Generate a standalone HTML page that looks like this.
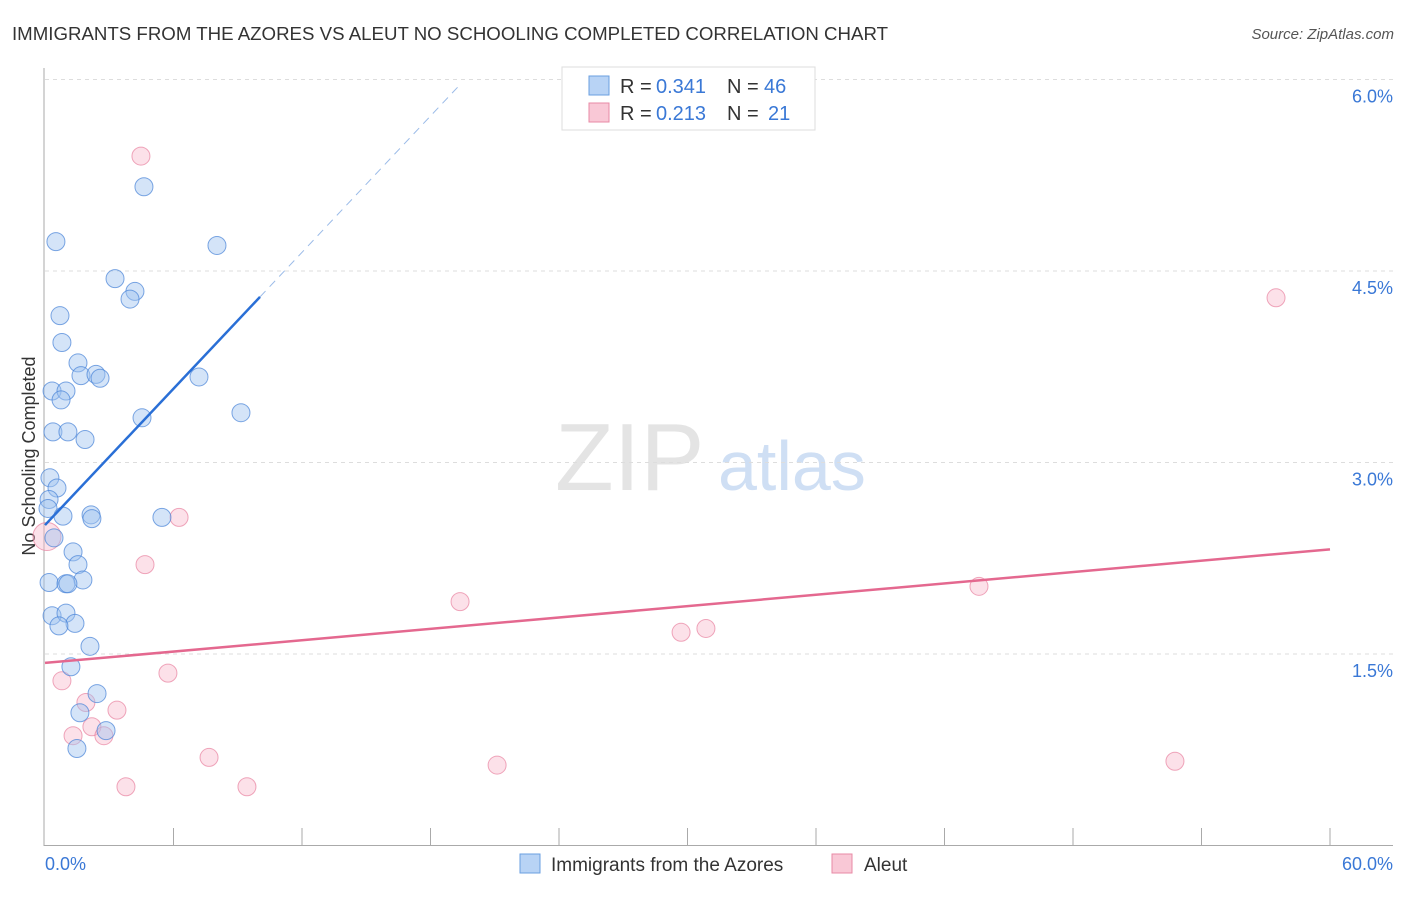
<!DOCTYPE html>
<html><head><meta charset="utf-8"><style>
body{margin:0;background:#fff;font-family:"Liberation Sans",sans-serif;}
svg text{font-family:"Liberation Sans",sans-serif;}
</style></head><body>
<svg id="c" width="1406" height="892">
<text x="12" y="40" font-size="18" fill="#333" textLength="876" lengthAdjust="spacingAndGlyphs">IMMIGRANTS FROM THE AZORES VS ALEUT NO SCHOOLING COMPLETED CORRELATION CHART</text>
<text x="1394" y="39" font-size="15" fill="#555" font-style="italic" text-anchor="end">Source: ZipAtlas.com</text>
<text x="555" y="490" font-size="96" fill="#e4e4e4" font-family="Liberation Serif">ZIP</text>
<text x="718" y="490" font-size="70" fill="#cfdff4">atlas</text>
<text x="35" y="456" font-size="18" fill="#333" text-anchor="middle" transform="rotate(-90 35 456)">No Schooling Completed</text>
<g id="grid"></g><g id="marks"></g>
<g>
<rect x="562" y="67" width="253" height="63" fill="#fff" stroke="#ddd"/>
<rect x="589" y="76" width="20" height="19" fill="#b8d3f5" stroke="#6a9fe0"/>
<rect x="589" y="103" width="20" height="19" fill="#f9c8d6" stroke="#e88aa5"/>
<text x="620" y="93" font-size="20" fill="#333">R =</text><text x="656" y="93" font-size="20" fill="#3a78d6">0.341</text>
<text x="727" y="93" font-size="20" fill="#333">N =</text><text x="764" y="93" font-size="20" fill="#3a78d6">46</text>
<text x="620" y="120" font-size="20" fill="#333">R =</text><text x="656" y="120" font-size="20" fill="#3a78d6">0.213</text>
<text x="727" y="120" font-size="20" fill="#333">N =</text><text x="768" y="120" font-size="20" fill="#3a78d6">21</text>
</g>
<g>
<rect x="520" y="854" width="20" height="19" fill="#b8d3f5" stroke="#6a9fe0"/>
<text x="551" y="871" font-size="19" fill="#333">Immigrants from the Azores</text>
<rect x="832" y="854" width="20" height="19" fill="#f9c8d6" stroke="#e88aa5"/>
<text x="864" y="871" font-size="19" fill="#333">Aleut</text>
</g>
</svg>
<script>
const blueX=[0.51,4.62,8.03,3.27,4.20,3.97,0.70,0.79,1.54,1.68,2.38,2.57,0.33,0.98,0.75,7.19,4.53,9.15,0.37,1.07,1.87,0.23,0.56,0.19,0.14,0.84,2.15,2.19,5.46,0.42,1.31,1.54,1.77,0.19,0.98,1.07,0.33,0.98,1.40,0.65,2.10,1.21,2.43,1.63,2.85,1.49];
const blueY=[4.73,5.16,4.70,4.44,4.34,4.28,4.15,3.94,3.78,3.68,3.69,3.66,3.56,3.56,3.49,3.67,3.35,3.39,3.24,3.24,3.18,2.88,2.80,2.71,2.64,2.58,2.59,2.56,2.57,2.41,2.30,2.20,2.08,2.06,2.05,2.05,1.80,1.82,1.74,1.72,1.56,1.40,1.19,1.04,0.90,0.76];
const pinkX=[4.48,57.48,6.26,4.67,19.38,43.61,29.70,30.86,5.74,0.79,1.91,3.36,2.19,1.31,2.75,7.66,21.11,52.76,3.78,9.43,0.09];
const pinkY=[5.40,4.29,2.57,2.20,1.91,2.03,1.67,1.70,1.35,1.29,1.12,1.06,0.93,0.86,0.86,0.69,0.63,0.66,0.46,0.46,2.42];
const blueTrend=[2.51,0.178];
const pinkTrend=[1.43,0.01483];
const yTicks=[1.5,3.0,4.5,6.0];
const xTickLabels=["0.0%","60.0%"];
const NS="http://www.w3.org/2000/svg";
const sx=v=>45+v/60*1285, sy=v=>845.5-v*127.67;
function mk(p,t,a){const e=document.createElementNS(NS,t);for(const k in a)e.setAttribute(k,a[k]);p.appendChild(e);return e;}
const g=document.getElementById('grid'),m=document.getElementById('marks');
yTicks.forEach(t=>{
 const l=mk(g,'line',{x1:45,x2:1393,y1:sy(t),y2:sy(t),stroke:'#ddd','stroke-dasharray':'4,4'});
 
 
 const tx=mk(g,'text',{x:1393,y:sy(t)+23,'font-size':18,fill:'#3a78d6','text-anchor':'end'});tx.textContent=t.toFixed(1)+'%';
 
 
});
const ya=mk(g,'line',{x1:44,x2:44,y1:68,y2:846,stroke:'#aaa'});


const xa=mk(g,'line',{x1:44,x2:1393,y1:845.5,y2:845.5,stroke:'#aaa'});


for(let i=1;i<=10;i++){const t=mk(g,'line',{x1:sx(i*6),x2:sx(i*6),y1:828,y2:846,stroke:'#aaa'});
 
 }
[[0,'start',45],[60,'end',1393]].forEach((d,i)=>{const t=mk(g,'text',{x:d[2],y:870,'font-size':18,fill:'#3a78d6','text-anchor':d[1]});t.textContent=xTickLabels[i];
 
 });
pinkX.forEach((x,i)=>{const c=mk(m,'circle',{cx:sx(x),cy:sy(pinkY[i]),r:i==20?14:9,fill:'rgba(247,180,200,0.4)',stroke:'rgba(232,130,160,0.7)'});
 
 });
blueX.forEach((x,i)=>{const c=mk(m,'circle',{cx:sx(x),cy:sy(blueY[i]),r:9,fill:'rgba(160,196,240,0.45)',stroke:'rgba(70,130,215,0.7)'});
 
 });
const b1=mk(m,'line',{x1:sx(0),y1:sy(blueTrend[0]),x2:sx(10.04),y2:sy(blueTrend[0]+blueTrend[1]*10.04),stroke:'#2a6fd6','stroke-width':2.5});


const b2=mk(m,'line',{x1:sx(10.04),y1:sy(blueTrend[0]+blueTrend[1]*10.04),x2:sx(19.4),y2:sy(blueTrend[0]+blueTrend[1]*19.4),stroke:'#9bbbe8','stroke-width':1,'stroke-dasharray':'8,6'});


const p1=mk(m,'line',{x1:sx(0),y1:sy(pinkTrend[0]),x2:sx(60),y2:sy(pinkTrend[0]+pinkTrend[1]*60),stroke:'#e4688f','stroke-width':2.5});


</script>
</body></html>
